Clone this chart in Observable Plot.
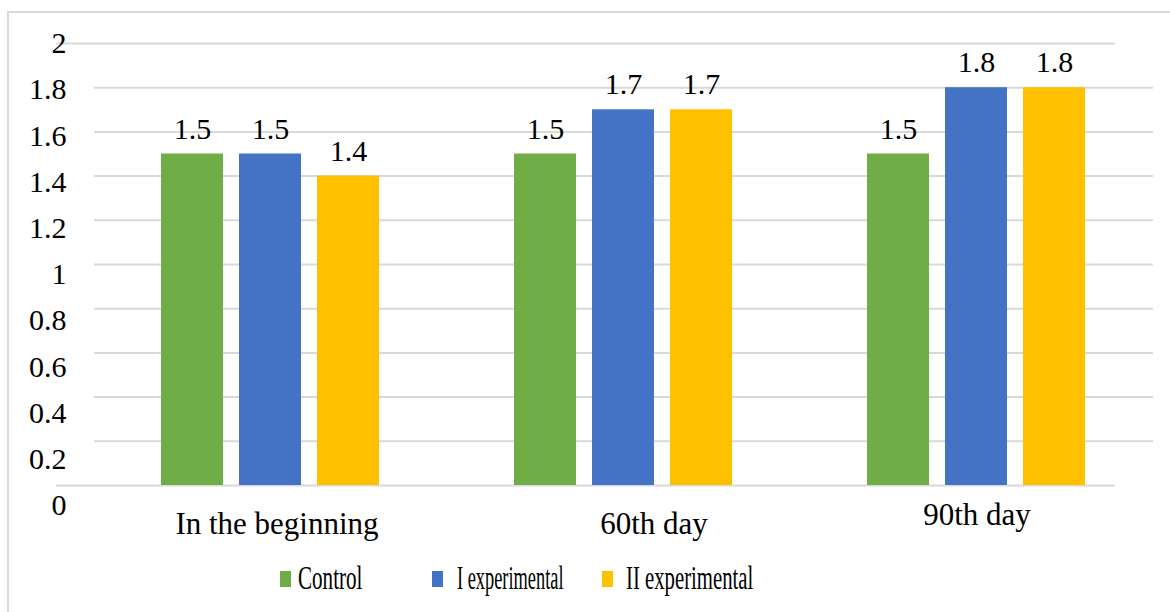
<!DOCTYPE html>
<html>
<head>
<meta charset="utf-8">
<script src="https://cdn.jsdelivr.net/npm/d3@7"></script>
<script src="https://cdn.jsdelivr.net/npm/@observablehq/plot@0.6"></script>
<style>
  html, body { margin: 0; padding: 0; background: #fff; overflow: hidden; }
  body { width: 1170px; height: 612px; position: relative; font-family: "Liberation Serif", "Times New Roman", serif; }
  #frame { position: absolute; left: 7px; top: 11px; width: 1200px; height: 700px; border: 2px solid #d9d9d9; box-sizing: border-box; pointer-events: none; }
  #chart { position: absolute; left: 0; top: 0; }
  #legend { position: absolute; left: 0; top: 540px; width: 1170px; height: 72px; }
  .item { position: absolute; top: 0; height: 72px; }
  .item .sw { position: absolute; top: 31px; left: 0; width: 11px; height: 16px; }
  .item .lb { position: absolute; top: 19px; white-space: nowrap; font-family: "Liberation Serif", "Times New Roman", serif; font-size: 34px; line-height: 38px; color: #000; transform-origin: left center; }
  .item:nth-child(1) { left: 280px; } .item:nth-child(1) .lb { left: 18px; transform: scaleX(0.62); }
  .item:nth-child(2) { left: 432px; } .item:nth-child(2) .lb { left: 25px; transform: scaleX(0.54); }
  .item:nth-child(3) { left: 602px; } .item:nth-child(3) .lb { left: 24px; transform: scaleX(0.61); }
</style>
</head>
<body>
<div id="chart"></div>
<div id="legend"></div>
<div id="frame"></div>
<script>
const groups = ["In the beginning", "60th day", "90th day"];
const series = ["Control", "I experimental", "II experimental"];
const colors = ["#70AD47", "#4472C4", "#FFC000"];
const controlValues = [1.5, 1.5, 1.5];
const exp1Values = [1.5, 1.7, 1.8];
const exp2Values = [1.4, 1.7, 1.8];
const yTicks = [0, 0.2, 0.4, 0.6, 0.8, 1, 1.2, 1.4, 1.6, 1.8, 2];

const seriesValues = [controlValues, exp1Values, exp2Values];
const data = [];
groups.forEach((g, gi) => {
  series.forEach((s, si) => {
    data.push({group: g, series: s, value: seriesValues[si][gi]});
  });
});

const font = "'Liberation Serif', 'Times New Roman', serif";
const innerTicks = yTicks.filter(t => t > 0 && t < 2);
const edgeTicks = yTicks.filter(t => t === 0 || t === 2);

// per-label nudges reproducing the reference's slightly uneven placement
const fxNudge = {"In the beginning": [6, 0], "60th day": [30, 0], "90th day": [0, -9]};

const marks = [
  Plot.ruleY(innerTicks, {stroke: "#d9d9d9", strokeWidth: 2}),
  Plot.ruleY(edgeTicks, {stroke: "#d9d9d9", strokeWidth: 2, dx: -38}),
  Plot.barY(data, {fx: "group", x: "series", y: "value", fill: "series"}),
  Plot.text(data, {fx: "group", x: "series", y: "value", text: d => String(d.value), dy: -25, fontSize: 30, fontFamily: font, fill: "#000"}),
  ...yTicks.map(t => Plot.axisY({ticks: [t], tickSize: 0, tickPadding: 28, fontSize: 30, fontFamily: font, dy: (2 - t) * 10, label: null, tickFormat: d => String(d), fill: "#000"})),
  ...groups.map(g => Plot.axisFx({ticks: [g], anchor: "bottom", tickSize: 0, tickPadding: 26, fontSize: 31, fontFamily: font, label: null, dx: fxNudge[g][0], dy: fxNudge[g][1], fill: "#000"}))
];

const chart = Plot.plot({
  width: 1170,
  height: 540,
  marginTop: 43,
  marginBottom: 55,
  marginLeft: 93,
  marginRight: 17,
  style: {fontFamily: font, background: "transparent", overflow: "visible"},
  fx: {domain: groups, padding: 0},
  x: {domain: series, paddingInner: 0.2, paddingOuter: 0.85, axis: null},
  y: {domain: [0, 2], axis: null},
  color: {domain: series, range: colors},
  marks
});
document.getElementById("chart").appendChild(chart);

const legend = document.getElementById("legend");
series.forEach((s, i) => {
  const item = document.createElement("div");
  item.className = "item";
  const sw = document.createElement("div");
  sw.className = "sw";
  sw.style.background = colors[i];
  const lb = document.createElement("span");
  lb.className = "lb";
  lb.textContent = s;
  item.appendChild(sw);
  item.appendChild(lb);
  legend.appendChild(item);
});
</script>
</body>
</html>
